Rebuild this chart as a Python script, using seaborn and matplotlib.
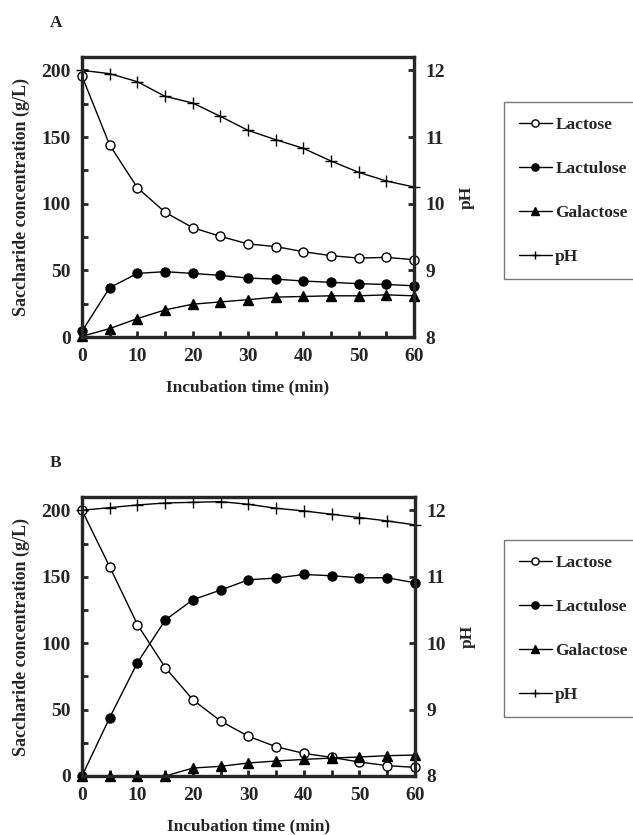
import matplotlib
matplotlib.use("Agg")
import matplotlib.pyplot as plt
import seaborn as sns
from matplotlib.ticker import MultipleLocator

# data
time = [0, 5, 10, 15, 20, 25, 30, 35, 40, 45, 50, 55, 60]

lactose_a = [195.7, 144, 112, 93.6, 82, 75.5, 69.8, 67.8, 64, 61, 59.2, 59.7, 58]
lactulose_a = [4.3, 37, 47.7, 49, 47.7, 46.2, 44.2, 43.4, 42, 41, 40, 39.4, 38.4]
galactose_a = [0.5, 6.3, 13.8, 20.3, 24.6, 26.3, 28, 29.9, 30.4, 30.9, 30.9, 31.6, 30.9]
ph_a = [12.0, 11.95, 11.83, 11.61, 11.51, 11.31, 11.10, 10.96, 10.83, 10.64, 10.47, 10.34, 10.25]

lactose_b = [200, 157.4, 113.9, 81.6, 57.3, 41.3, 29.8, 22, 17, 14, 10.5, 7.8, 6.5]
lactulose_b = [0, 44, 85.4, 117.4, 132.7, 140, 147.7, 149, 151.7, 150.7, 149.2, 149.2, 145.4]
galactose_b = [0, 0, 0, 0, 6, 7.3, 9.8, 11.3, 12.5, 13.5, 14.3, 15.3, 15.8]
ph_b = [12.0, 12.04, 12.08, 12.11, 12.12, 12.13, 12.09, 12.03, 11.99, 11.94, 11.89, 11.84, 11.78]

sns.set_theme(style="ticks")
plt.rcParams['font.family'] = ['Liberation Serif', 'DejaVu Serif']
plt.rcParams['font.weight'] = 'bold'
plt.rcParams['axes.labelweight'] = 'bold'

fig = plt.figure(figsize=(6.33, 8.35), dpi=100)

panels = [
    ("A", [82/633, 1-337/835, 332/633, 280/835], lactose_a, lactulose_a, galactose_a, ph_a, 1-102/835),
    ("B", [82/633, 1-776/835, 333/633, 279/835], lactose_b, lactulose_b, galactose_b, ph_b, 1-540/835),
]

for name, rect, lac, lactu, gal, ph, leg_top in panels:
    ax = fig.add_axes(rect)
    ax2 = ax.twinx()
    common = dict(color='black', lw=1, markersize=6.5, markeredgecolor='black',
                  markeredgewidth=1, clip_on=False, zorder=5)
    sns.lineplot(x=time, y=lac, ax=ax, marker='o', markerfacecolor='white',
                 label='Lactose', **common)
    sns.lineplot(x=time, y=lactu, ax=ax, marker='o', markerfacecolor='black',
                 label='Lactulose', **common)
    sns.lineplot(x=time, y=gal, ax=ax, marker='^', markerfacecolor='black',
                 label='Galactose', **common)
    sns.lineplot(x=time, y=ph, ax=ax2, marker='+', label='pH',
                 color='black', lw=1, markersize=8, markeredgewidth=1,
                 markeredgecolor='black', clip_on=False)

    ax.set_xlim(0, 60)
    ax.set_ylim(0, 210)
    ax2.set_ylim(8, 12.2)
    ax.xaxis.set_major_locator(MultipleLocator(10))
    ax.xaxis.set_minor_locator(MultipleLocator(5))
    ax.yaxis.set_major_locator(MultipleLocator(50))
    ax.yaxis.set_minor_locator(MultipleLocator(25))
    ax2.yaxis.set_major_locator(MultipleLocator(1))

    for a in (ax, ax2):
        for s in a.spines.values():
            s.set_linewidth(2.3)
            s.set_visible(True)
        a.tick_params(direction='in', width=2, length=4, labelsize=14, pad=8)
        a.tick_params(which='minor', direction='in', width=2, length=4)
        for lbl in a.get_xticklabels() + a.get_yticklabels():
            lbl.set_fontweight('bold')
    ax.tick_params(top=False, right=False)
    ax.tick_params(which='minor', top=False, right=False)

    ax.set_xlabel('Incubation time (min)', fontsize=12.5, fontweight='bold', labelpad=10)
    ax.set_ylabel('Saccharide concentration (g/L)', fontsize=13, fontweight='bold', labelpad=8)
    ax2.set_ylabel('pH', fontsize=12.5, fontweight='bold', labelpad=10)

    h1, l1 = ax.get_legend_handles_labels()
    h2, l2 = ax2.get_legend_handles_labels()
    ax.get_legend().remove()
    ax2.get_legend().remove()
    fig.legend(h1 + h2, l1 + l2, loc='upper left', bbox_to_anchor=(504/633, leg_top),
               frameon=True, fancybox=False, edgecolor='#777777', framealpha=1,
               prop={'family': 'Liberation Serif', 'weight': 'bold', 'size': 12.5},
               handlelength=1.9, handletextpad=0.2, labelspacing=1.6, borderpad=0.85,
               borderaxespad=0, markerscale=0.8)

    fig.text(56/633, rect[1] + rect[3] + 34/835, name, fontsize=12.5, fontweight='bold',
             ha='center', va='center')

fig.savefig('out.png', dpi=100)
